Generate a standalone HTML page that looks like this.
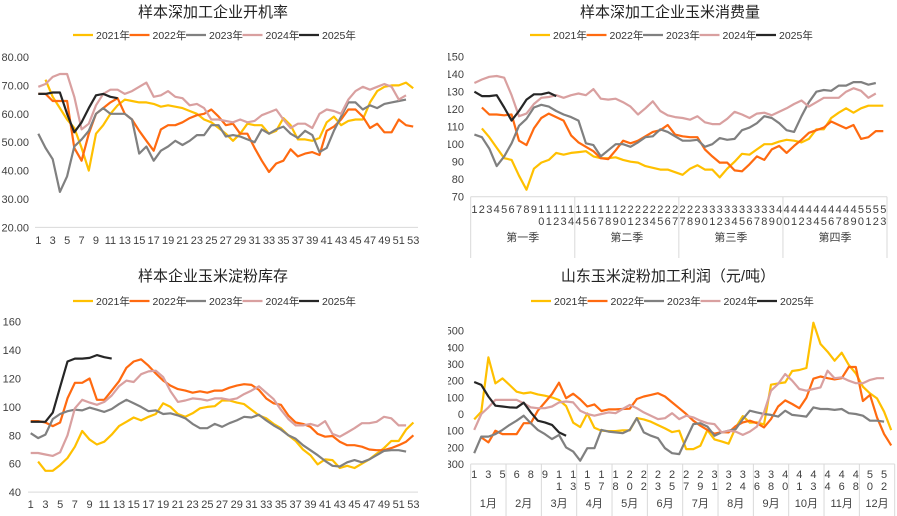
<!DOCTYPE html>
<html><head><meta charset="utf-8">
<style>
html,body{margin:0;padding:0;background:#fff;width:897px;height:516px;overflow:hidden}
svg{position:absolute;font-family:"Liberation Sans","Noto Sans CJK SC",sans-serif;overflow:hidden}
.t{font-size:15px;fill:#222}
.k{font-size:11px;fill:#404040}
.lg{font-size:10.5px;fill:#333}
</style></head><body>
<svg id="p1" style="left:0;top:0" width="448" height="258" viewBox="0 0 448 258"></svg>
<svg id="p2" style="left:448px;top:0" width="449" height="258" viewBox="448 0 449 258"></svg>
<svg id="p3" style="left:0;top:258px" width="448" height="258" viewBox="0 258 448 258"></svg>
<svg id="p4" style="left:448px;top:258px" width="449" height="258" viewBox="448 258 449 258"></svg>
<script>
const seriesNames=["2021年","2022年","2023年","2024年","2025年"];
const colors=["#FFC000","#FF6A10","#808080","#D9A0A0","#262626"];
const N=null;
const p1Ticks=[20,30,40,50,60,70,80];
const p1_2021=[N,72,66,62,58,55,48,40,53,56,60,63,65,64.5,64,64,63.5,62.5,63,62.5,62,61,60,58,57,55,53,50.5,53,56.5,56,56,53,54,58.5,56,51,51,50.5,51.5,57,59,56,57.5,58,58,64,68,69.5,70,70,71,69];
const p1_2022=[67,67,64.5,64.5,64.5,48,43.5,53,60,62,64,65.5,60,58,54,50.5,47,54.5,56,56,57,58.5,59.5,60,61.5,59,56,56.5,53,53,48,43.5,39.5,42.5,43.5,47.5,45,46,46.5,45.5,54,55.5,58,61.5,61.5,59,55,56.5,53.5,53.5,58,56,55.5];
const p1_2023=[53,48,44,32.5,38,48.5,51,54,60,62,60,60,60,58,46,48.5,43.5,47,48.5,50.5,49,50.5,52.5,52.5,56,56,52,52.5,52,51,50,54.5,53,54.5,55.5,53,51.5,54,52.5,46.5,48,54,59,64,64,61.5,63,62,63.5,64,64.5,65];
const p1_2024=[69.5,70.5,73,74,74,66,54.5,56.5,63,67,68.5,68.5,67,68,69.5,71,66,66.5,68,66,65.5,63,63.5,62,58,58,57.5,57,58,57,57.5,59.5,60.5,61.5,58,55,56.5,56.5,55,60,61.5,61,60,65,68,69.5,68.5,69.5,70.5,69.5,65,66.5];
const p1_2025=[67,67,67.5,67.5,60,53.5,57,62,66.5,67,66,65.5];
const p2Ticks=[70,80,90,100,110,120,130,140,150];
const p2Quarters=["第一季","第二季","第三季","第四季"];
const p2Cats=[1,2,3,4,5,6,7,8,9,10,11,12,13,14,14,15,16,17,18,19,20,21,22,23,24,25,26,27,27,28,29,30,31,32,33,34,35,36,37,38,39,40,40,41,42,43,44,45,46,47,48,49,50,51,52,53];
const p2_2021=[N,109,104,98,92,91,82,74,86,89.5,91,95,94,95,95.5,96,93,92,92,92.5,91,90,89.5,87.5,86.5,85.5,85.5,84,82.5,86,88,85.5,85.5,81,86,90,94.5,94,97,100,100,101.5,102.5,102,101,103,108.5,108.5,115,118,120.5,118,120.5,122,122,122];
const p2_2022=[N,121,117,117,116.5,117,102,99.5,109,115,117.5,115.5,113.5,105,101,98.5,96,92,91.5,96.5,102,100.5,102,104.5,107,108,111,105.5,104.5,104,104,97,93,89.5,89.5,85,84.5,88.5,93,91,97,99,95,99,102.5,106.5,108,109.5,113,111,109,111,103,104,107.5,107.5];
const p2_2023=[105.5,104,97.5,87.5,93,100.5,110.5,114.5,121,122.5,121.5,119,117,115.5,113.5,100.5,99.5,93,96.5,100,100,98.5,101,104,104.5,108.5,107,104.5,102,102,102.5,98.5,100,103.5,102.5,103,108,109.5,112,116,115,112,108,107,116,124,130,131,130.5,133.5,133.5,135.5,135.5,134,135];
const p2_2024=[135,137,138.5,139,138,128,116,117.5,123,126.5,127,128,126.5,128,129,128,131.5,126,125.5,126,124,121.5,117,120.5,124.5,119,116.5,115.5,115,114,116,112.5,111.5,111.5,114.5,118.5,117,115,117.5,118,116.5,118.5,120.5,123,125,121.5,124,126.5,126.5,126.5,130,132,130.5,126.5,129];
const p2_2025=[130,127.5,127.5,128,121,113.5,119,125.5,128.5,128.5,129.5,127.5];
const p3Ticks=[40,60,80,100,120,140,160];
const p3_2021=[N,61.5,55,55,59,64,72,83,77,73.5,75.5,80.5,86.5,89.5,92.5,90.5,93,95,102.5,100,95,93,95.5,99,100,100.5,104.5,104.5,103,102,98,94,92,88,85,80,76,70,66,59.5,63,62.5,57,58.5,57,60,63,67,71,76,76,84,89];
const p3_2022=[90,90,89,86.5,89,106,117,117,120,105,105,111.5,118,127.5,132,133.5,129,123.5,118.5,115,112.5,111.5,110,111,110,111.5,111.5,113.5,115,116,115.5,112,106,102.5,101.5,94,89,88,86,81,79,79.5,75.5,73,73,72,70,69.5,69.5,71,73,75.5,80];
const p3_2023=[81.5,78,80.5,91.5,95,97,98,97.5,99.5,98,96.5,98.5,102,105,102.5,100,97,97.5,95,95.5,94,92,88,85,85,88,86,88.5,90.5,93,92.5,94.5,90.5,87,84,80,77.5,73,69.5,66,62,58.5,58,61,62.5,61,63,66,69,69.5,69.5,68.5];
const p3_2024=[67.5,67.5,66.5,65.5,68,80,99,105,103,101.5,103.5,108,114.5,118.5,117.5,123,125,125.5,121,111,103.5,104.5,106,105.5,104.5,106,106,105,106,109,111.5,114.5,110,105.5,98,91.5,87,87,88,86.5,90,81,79,82,85,88.5,88.5,89.5,93,92,87,87];
const p3_2025=[89.5,89.5,89.5,96,114,132,134,134,134.5,136.5,135,134];
const p4Ticks=[-300,-200,-100,0,100,200,300,400,500];
const p4Months=["1月","2月","3月","4月","5月","6月","7月","8月","9月","10月","11月","12月"];
const p4Labels=["1","3","5","6","8","9","11","13","15","17","18","20","22","23","25","27","29","31","32","34","36","38","40","41","43","44","46","48","50","52"];
const p4_2021=[-32,14,340,184,214,174,134,124,130,118,110,100,84,48,-52,-78,4,-82,-100,-102,-102,-98,-98,-24,-32,-46,-66,-86,-108,-100,-210,-210,-190,-96,-152,-164,-178,-80,-12,-52,-50,-62,176,184,190,258,264,276,548,420,374,320,368,294,244,164,124,94,14,-96];
const p4_2022=[N,-140,-170,-100,-120,-120,-120,-55,-55,20,70,120,188,95,122,88,45,58,18,28,28,30,32,90,105,115,125,105,70,35,0,-40,-70,-95,-118,-108,-110,-72,-50,-40,-55,-80,-30,45,82,60,35,98,212,225,215,208,215,282,282,78,115,-20,-120,-188];
const p4_2023=[-235,-135,-135,-120,-95,-65,-40,-10,-55,-95,-120,-150,-125,-200,-225,-280,-205,-205,-95,-105,-110,-115,-95,-25,-110,-130,-145,-205,-235,-240,-150,-60,-55,-75,-130,-110,-100,-90,-30,20,10,0,-5,-15,20,-5,-10,-15,40,30,30,25,30,5,0,-10,-40,-40,-45];
const p4_2024=[-95,0,40,85,85,85,85,65,40,35,35,45,70,75,70,20,0,-10,0,10,5,30,55,35,10,-10,-30,-25,5,-30,-10,-20,-40,-55,-60,-110,-100,-105,-125,-105,-75,10,140,180,240,200,150,140,150,160,260,215,220,200,185,185,205,215,215];
const p4_2025=[192,175,105,50,45,40,38,68,10,-40,-50,-65,-110,-130];

const NS="http://www.w3.org/2000/svg";
function mk(parent,tag,attrs,text){const e=document.createElementNS(NS,tag);for(const k in attrs)e.setAttribute(k,attrs[k]);if(text!==undefined)e.textContent=text;parent.appendChild(e);return e;}
function title(svg,x,y,txt){const e=mk(svg,'text',{x:x,y:y,'text-anchor':'middle',class:'t'},txt);

}
function legend(svg,x0,y){for(let i=0;i<5;i++){const g=mk(svg,'g',{});


const x=x0+i*56.5;mk(g,'line',{x1:x,y1:y,x2:x+20,y2:y,stroke:colors[i],'stroke-width':2.2});mk(g,'text',{x:x+23,y:y+4,class:'lg'},seriesNames[i]);}}
function series(svg,vals,xf,yf,i){let d='';let started=false;vals.forEach((v,k)=>{if(v===null)return;d+=(started?'L':'M')+xf(k).toFixed(1)+','+yf(v).toFixed(1);started=true;});
const p=mk(svg,'path',{d:d,fill:'none',stroke:colors[i],'stroke-width':2.2,'stroke-linejoin':'round'});

}
function yticks(svg,ticks,yf,xr,fmt){ticks.forEach(t=>{const e=mk(svg,'text',{x:xr,y:yf(t)+4,'text-anchor':'end',class:'k'},fmt(t));

});}

(function(){const s=document.getElementById('p1');
const xf=i=>38.3+i*7.21, yf=v=>57+(80-v)*2.84;
title(s,213,17,'样本深加工企业开机率');legend(s,73,35);
yticks(s,p1Ticks,yf,29,t=>t.toFixed(2));
mk(s,'line',{x1:35,y1:yf(20),x2:418,y2:yf(20),stroke:'#d9d9d9'});
for(let w=1;w<=53;w+=2){const e=mk(s,'text',{x:xf(w-1),y:244,'text-anchor':'middle',class:'k'},String(w));

}
[p1_2021,p1_2022,p1_2023,p1_2024,p1_2025].forEach((v,i)=>series(s,v,xf,yf,i));})();

(function(){const s=document.getElementById('p2');
const L=470.7,R=887,st=(R-L)/p2Cats.length;
const xf=i=>L+(i+0.5)*st, yf=v=>56.7+(150-v)*1.75;
title(s,670,17,'样本深加工企业玉米消费量');legend(s,530,35);
yticks(s,p2Ticks,yf,464,t=>String(t));
mk(s,'line',{x1:L,y1:yf(70),x2:R,y2:yf(70),stroke:'#d9d9d9'});
for(let q=0;q<=4;q++){const x=L+q*14*st;mk(s,'line',{x1:x,y1:yf(70),x2:x,y2:258,stroke:'#d9d9d9'});}
p2Cats.forEach((c,i)=>{const str=String(c);const x=xf(i);
const e=mk(s,'text',{x:x,y:213,'text-anchor':'middle',class:'k'},str[0]);


if(str.length>1)mk(s,'text',{x:x,y:225,'text-anchor':'middle',class:'k'},str[1]);});
p2Quarters.forEach((q,k)=>{const e=mk(s,'text',{x:L+(k+0.5)*14*st,y:241,'text-anchor':'middle',class:'k'},q);

});
[p2_2021,p2_2022,p2_2023,p2_2024,p2_2025].forEach((v,i)=>series(s,v,xf,yf,i));})();

(function(){const s=document.getElementById('p3');
const xf=i=>30.7+i*7.36, yf=v=>321.7+(160-v)*1.42;
title(s,213,281,'样本企业玉米淀粉库存');legend(s,73,301);
yticks(s,p3Ticks,yf,21,t=>String(t));
mk(s,'line',{x1:28,y1:yf(40),x2:418,y2:yf(40),stroke:'#d9d9d9'});
for(let w=1;w<=53;w+=2){const e=mk(s,'text',{x:xf(w-1),y:508,'text-anchor':'middle',class:'k'},String(w));

}
[p3_2021,p3_2022,p3_2023,p3_2024,p3_2025].forEach((v,i)=>series(s,v,xf,yf,i));})();

(function(){const s=document.getElementById('p4');
const L=470.7,R=894.7,n=60,st=(R-L)/n;
const xf=i=>L+(i+0.5)*st, yf=v=>330.7+(500-v)*0.1667;
title(s,668,281,'山东玉米淀粉加工利润（元/吨）');legend(s,531,301);
yticks(s,p4Ticks,yf,464,t=>String(t));
mk(s,'line',{x1:L,y1:yf(-300),x2:R,y2:yf(-300),stroke:'#d9d9d9'});
for(let m=0;m<=12;m++){const x=L+m*5*st;mk(s,'line',{x1:x,y1:yf(-300),x2:x,y2:516,stroke:'#d9d9d9'});}
p4Labels.forEach((lb,k)=>{const x=xf(k*2);
const e=mk(s,'text',{x:x,y:478,'text-anchor':'middle',class:'k'},lb[0]);


if(lb.length>1)mk(s,'text',{x:x,y:490,'text-anchor':'middle',class:'k'},lb[1]);});
p4Months.forEach((m,k)=>{const e=mk(s,'text',{x:L+(k+0.5)*5*st,y:507,'text-anchor':'middle',class:'k'},m);

});
[p4_2021,p4_2022,p4_2023,p4_2024,p4_2025].forEach((v,i)=>series(s,v,xf,yf,i));})();
</script>
</body></html>
